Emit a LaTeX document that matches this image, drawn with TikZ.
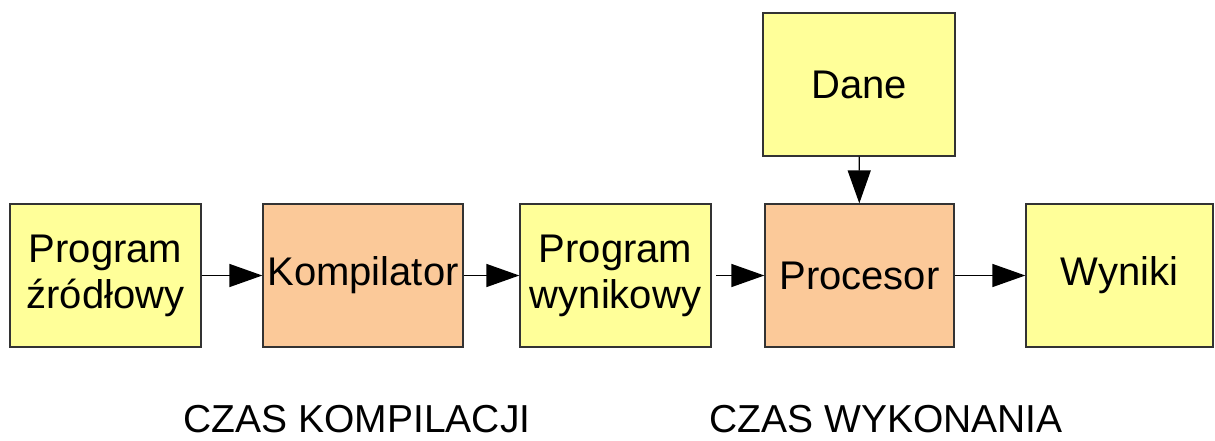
\documentclass[tikz,border=0pt]{standalone}
\usepackage{fontspec}
\setmainfont{Liberation Sans}
\usetikzlibrary{arrows.meta}
\definecolor{boxyellow}{HTML}{FFFF99}
\definecolor{boxorange}{HTML}{FBC999}
\definecolor{boxline}{HTML}{333333}
\tikzset{
  blk/.style={draw=boxline, line width=1.3pt, inner sep=0pt, align=center,
    font=\fontsize{40}{46}\selectfont},
  ybox/.style={blk, fill=boxyellow},
  obox/.style={blk, fill=boxorange},
  conn/.style={line width=1.4pt, -{Triangle[length=33pt,width=23pt]}},
  caption/.style={font=\fontsize{39}{44}\selectfont, inner sep=0pt, anchor=base}
}
\begin{document}
\begin{tikzpicture}[x=1pt,y=-1pt]
\useasboundingbox (0,0) rectangle (1215,440);
\node[ybox, minimum width=191pt, minimum height=143pt] (src) at (105.5,275.5) {Program\\źródłowy};
\node[obox, minimum width=200pt, minimum height=143pt] (comp) at (363,275.5) {Kompilator};
\node[ybox, minimum width=191pt, minimum height=143pt] (obj) at (615.5,275.5) {Program\\wynikowy};
\node[obox, minimum width=189pt, minimum height=143pt] (cpu) at (859.5,275.5) {Procesor};
\node[ybox, minimum width=192pt, minimum height=143pt] (data) at (859,84.5) {Dane};
\node[ybox, minimum width=187pt, minimum height=143pt] (out) at (1119.5,275.5) {Wyniki};
\coordinate (objout) at (716,275.5);
\draw[conn] (src) -- (comp);
\draw[conn] (comp) -- (obj);
\draw[conn] (objout) -- (cpu);
\draw[conn] (cpu) -- (out);
\draw[conn] (data) -- (cpu);
\node[caption] (t1) at (357,432) {CZAS KOMPILACJI};
\node[caption] (t2) at (886,432) {CZAS WYKONANIA};
\end{tikzpicture}
\end{document}
